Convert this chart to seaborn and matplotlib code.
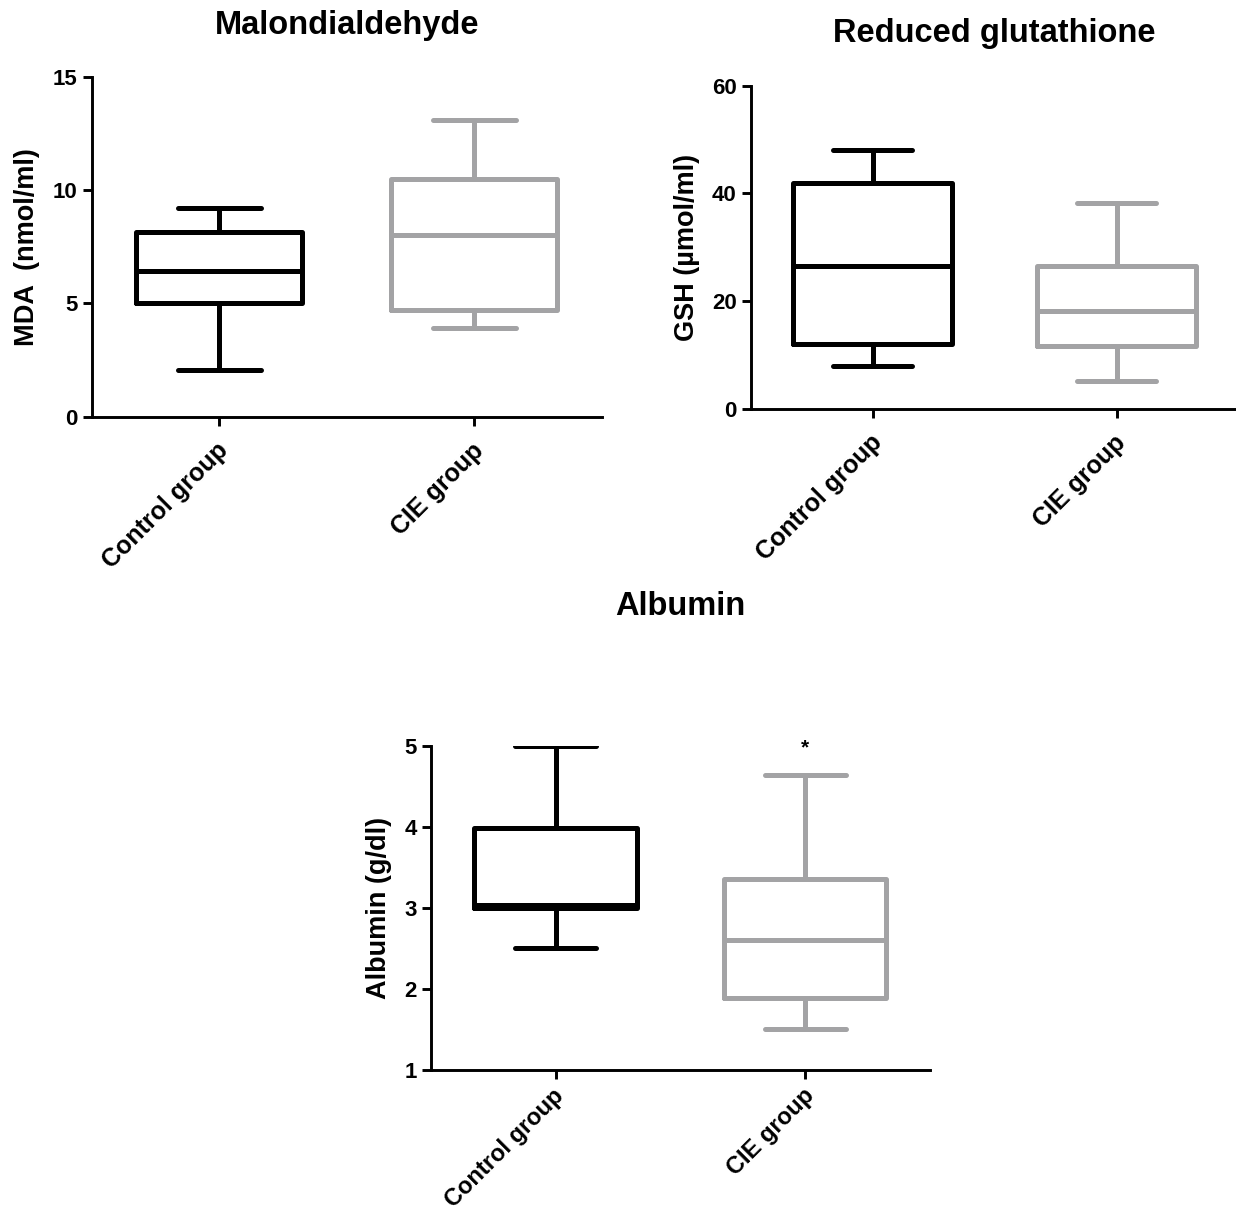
import numpy as np
import pandas as pd
import matplotlib
matplotlib.use("Agg")
import matplotlib.pyplot as plt
import matplotlib.transforms as mtransforms
import seaborn as sns

# Five-number summaries (min, Q1, median, Q3, max) for each group
groups = ["Control group", "CIE group"]

mda_control = [2.05, 5.0, 6.45, 8.15, 9.2]
mda_cie = [3.9, 4.7, 8.0, 10.5, 13.1]

gsh_control = [8.0, 12.0, 26.5, 42.0, 48.0]
gsh_cie = [5.2, 11.7, 18.1, 26.6, 38.2]

alb_control = [2.5, 3.0, 3.03, 3.98, 5.0]
alb_cie = [1.5, 1.88, 2.6, 3.35, 4.64]

group_colors = {"Control group": "#000000", "CIE group": "#a3a3a5"}

sns.set_style("ticks")
plt.rcParams["font.family"] = ["Liberation Sans", "DejaVu Sans"]
plt.rcParams["font.weight"] = "bold"
plt.rcParams["axes.labelweight"] = "bold"
plt.rcParams["axes.titleweight"] = "bold"
for key in ("text.color", "axes.labelcolor", "xtick.color", "ytick.color",
            "axes.edgecolor"):
    plt.rcParams[key] = "black"


def long_frame(control, cie):
    return pd.DataFrame({
        "group": [groups[0]] * len(control) + [groups[1]] * len(cie),
        "value": list(control) + list(cie),
    })


def draw_panel(ax, control, cie, title, ylabel, ylim, yticks, title_pad,
               xlabel_size=18, xlabel_pad=9):
    df = long_frame(control, cie)
    sns.boxplot(data=df, x="group", y="value", hue="group", order=groups,
                hue_order=groups, palette=group_colors, fill=False,
                width=0.65, linewidth=3.6, whis=(0, 100), fliersize=0,
                legend=False, ax=ax)
    ax.set_ylim(*ylim)
    ax.set_yticks(yticks)
    ax.set_xlim(-0.5, 1.5)
    ax.set_xlabel("")
    ax.set_ylabel(ylabel, fontsize=19.5, fontweight="bold", labelpad=9)
    ax.set_title(title, fontsize=23.5, fontweight="bold", pad=title_pad)
    sns.despine(ax=ax)
    for side in ("left", "bottom"):
        ax.spines[side].set_linewidth(2.1)
        ax.spines[side].set_color("black")
    ax.tick_params(axis="both", direction="out", length=6.5, width=2.1,
                   color="black", labelsize=16, labelcolor="black")
    ax.tick_params(axis="x", pad=xlabel_pad)
    ax.set_xticks([0, 1])
    ax.set_xticklabels(groups, rotation=45, ha="right",
                       rotation_mode="anchor", fontsize=xlabel_size,
                       fontweight="bold")
    shift = mtransforms.ScaledTranslation(-3 / 100, 0, ax.figure.dpi_scale_trans)
    for lab in ax.get_xticklabels():
        lab.set_transform(lab.get_transform() + shift)
    for lab in ax.get_yticklabels():
        lab.set_fontweight("bold")


W, H = 1236, 1213
fig = plt.figure(figsize=(W / 100, H / 100), dpi=100)

ax1 = fig.add_axes([91.5 / W, 1 - 416.7 / H, 510.5 / W, 340 / H])
ax2 = fig.add_axes([750.7 / W, 1 - 408.7 / H, 488 / W, 323 / H])
ax3 = fig.add_axes([430.7 / W, 1 - 1069.7 / H, 499.3 / W, 324 / H])

draw_panel(ax1, mda_control, mda_cie, "Malondialdehyde", "MDA  (nmol/ml)",
           (0, 15), [0, 5, 10, 15], 31)
draw_panel(ax2, gsh_control, gsh_cie, "Reduced glutathione", "GSH (µmol/ml)",
           (0, 60), [0, 20, 40, 60], 31.5)
draw_panel(ax3, alb_control, alb_cie, "Albumin", "Albumin (g/dl)",
           (1, 5), [1, 2, 3, 4, 5], 94, xlabel_size=17, xlabel_pad=4)

# significance marker above the CIE albumin box
ax3.text(1, 4.9, "*", ha="center", va="baseline", fontsize=15,
         fontweight="bold", clip_on=False)

fig.savefig("out.png", dpi=100)
